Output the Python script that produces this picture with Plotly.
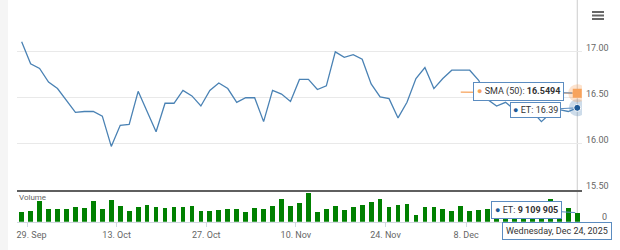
import plotly.graph_objects as go
import pandas as pd

# ---------------- data ----------------
dates = pd.bdate_range("2025-09-26", "2025-12-24")
dates = dates[dates != pd.Timestamp("2025-11-27")]  # Thanksgiving

close = [17.11, 16.87, 16.82, 16.67, 16.60, 16.47, 16.34, 16.35, 16.35, 16.30,
         15.97, 16.20, 16.21, 16.57, 16.35, 16.13, 16.44, 16.44, 16.58, 16.52,
         16.41, 16.58, 16.66, 16.60, 16.45, 16.50, 16.50, 16.24, 16.58, 16.54,
         16.46, 16.70, 16.70, 16.59, 16.63, 17.00, 16.94, 16.97, 16.92, 16.65,
         16.51, 16.49, 16.28, 16.45, 16.71, 16.83, 16.60, 16.71, 16.80, 16.80,
         16.80, 16.69, 16.48, 16.41, 16.45, 16.37, 16.43, 16.35, 16.24, 16.33,
         16.37, 16.35, 16.39]

volume_m = [9.4, 11.1, 20.9, 12.9, 12.9, 12.9, 14.5, 14.2, 20.9, 12.9,
            21.6, 15.5, 11.1, 14.9, 16.9, 14.9, 13.9, 14.9, 14.9, 15.5,
            10.8, 11.1, 12.1, 13.2, 13.2, 9.8, 13.9, 13.2, 16.2, 22.6,
            15.5, 18.5, 28.6, 9.8, 13.2, 15.5, 11.4, 14.9, 16.5, 19.9,
            23.3, 14.9, 17.2, 17.9, 6.8, 14.9, 14.5, 12.4, 11.1, 16.2,
            10.4, 12.1, 12.4, 14.2, 12.1, 15.2, 13.2, 11.1, 14.2, 23.0,
            16.2, 13.6, 9.109905]
volume = [v * 1e6 for v in volume_m]

sma50 = [16.562, 16.561, 16.561, 16.559, 16.558, 16.557, 16.556, 16.556,
         16.554, 16.553, 16.552, 16.551, 16.550, 16.5494]

tick_dates = ["2025-09-29", "2025-10-13", "2025-10-27", "2025-11-10", "2025-11-24", "2025-12-08"]
tick_labels = ["\u00a0\u00a0\u00a0\u00a029. Sep", "13. Oct", "27. Oct", "10. Nov", "24. Nov", "8. Dec"]
price_ticks = [15.5, 16.0, 16.5, 17.0, 17.5]
price_tick_text = ["15.50", "16.00", "16.50", "17.00", ""]

# ---------------- styling ----------------
W, H = 620, 250
L, R = 17, 582
BLUE = "#4a82b4"
DARKBLUE = "#1f5a96"
ORANGE = "#f7a35c"
GREEN = "#008000"
BORDER = "#5b8cc0"
FONT = "Roboto"


def fx(px):
    return (px - L) / (R - L)


def fy(py):
    return 1 - py / H


x = list(range(len(dates)))
tick_pos = [dates.get_loc(pd.Timestamp(d)) - 0.4 for d in tick_dates]
last = x[-1]

fig = go.Figure()
fig.add_trace(go.Scatter(x=x, y=close, mode="lines", line=dict(color=BLUE, width=1.3),
                         xaxis="x", yaxis="y", hoverinfo="skip"))
fig.add_trace(go.Scatter(x=x[-len(sma50):], y=sma50, mode="lines",
                         line=dict(color=ORANGE, width=1.3), xaxis="x", yaxis="y", hoverinfo="skip"))
fig.add_trace(go.Bar(x=x, y=volume, marker=dict(color=GREEN, line=dict(width=0)), width=0.53,
                     xaxis="x2", yaxis="y2", hoverinfo="skip"))
# hover halos / markers on the last point
fig.add_trace(go.Scatter(x=[last], y=[close[-1]], mode="markers",
                         marker=dict(size=17, color="rgba(74,130,180,0.28)"), xaxis="x", yaxis="y", hoverinfo="skip"))
fig.add_trace(go.Scatter(x=[last], y=[close[-1]], mode="markers",
                         marker=dict(size=7, color=DARKBLUE, line=dict(color="white", width=1)),
                         xaxis="x", yaxis="y", hoverinfo="skip"))
fig.add_trace(go.Scatter(x=[last], y=[sma50[-1]], mode="markers",
                         marker=dict(size=18, color="rgba(247,163,92,0.3)"), xaxis="x", yaxis="y", hoverinfo="skip"))
fig.add_trace(go.Scatter(x=[last], y=[sma50[-1]], mode="markers",
                         marker=dict(symbol="square", size=9, color=ORANGE), xaxis="x", yaxis="y", hoverinfo="skip"))

shapes = [
    # left grey strip
    dict(type="rect", xref="paper", yref="paper", x0=fx(0), x1=fx(8), y0=0, y1=1,
         fillcolor="#f5f5f5", line=dict(width=0), layer="below"),
    # crosshair
    dict(type="line", xref="x", yref="paper", x0=last, x1=last, y0=fy(222), y1=1,
         line=dict(color="#cccccc", width=1), layer="between"),
]
# hamburger menu icon
for yy in (12, 15.5, 19):
    shapes.append(dict(type="line", xref="paper", yref="paper", x0=fx(592), x1=fx(604),
                       y0=fy(yy), y1=fy(yy), line=dict(color="#666666", width=2)))

tip_font = dict(family=FONT, size=9, color="#333333")
annotations = [
    dict(text="Volume", xref="paper", yref="paper", x=fx(17), y=fy(197), xanchor="left",
         yanchor="middle", showarrow=False, font=dict(family=FONT, size=8, color="#666666")),
    dict(text=f"<span style='color:{ORANGE}'>●</span> SMA (50): <b>{sma50[-1]:.4f}</b>",
         xref="x", yref="y", x=last, y=sma50[-1], ax=-59, ay=-2, showarrow=True,
         arrowhead=0, arrowwidth=1, arrowcolor=BORDER, standoff=5,
         bgcolor="white", bordercolor=BORDER, borderwidth=1, borderpad=3, font=tip_font),
    dict(text=f"<span style='color:{DARKBLUE}'>●</span> ET: {close[-1]:.2f}",
         xref="x", yref="y", x=last, y=close[-1], ax=-42, ay=2, showarrow=True,
         arrowhead=0, arrowwidth=1, arrowcolor=BORDER, standoff=4,
         bgcolor="white", bordercolor=BORDER, borderwidth=1, borderpad=2, font=tip_font),
    dict(text=f"<span style='color:{DARKBLUE}'>●</span> ET: <b>{int(volume[-1]):,}</b>".replace(",", " "),
         xref="x2", yref="y2", x=last, y=volume[-1], ax=-51, ay=-3, showarrow=True,
         arrowhead=0, arrowwidth=1, arrowcolor=BORDER, standoff=2,
         bgcolor="white", bordercolor=BORDER, borderwidth=1, borderpad=3, font=tip_font),
    dict(text=dates[-1].strftime("%A, %b %d, %Y"), xref="paper", yref="paper",
         x=fx(556.5), y=fy(231), xanchor="center", yanchor="middle", showarrow=False,
         bgcolor="white", bordercolor=BORDER, borderwidth=1, borderpad=3, font=tip_font),
]

axis_font = dict(family=FONT, size=9, color="#666666")
fig.update_layout(
    width=W, height=H,
    margin=dict(l=L, r=W - R, t=0, b=0, autoexpand=False),
    paper_bgcolor="white", plot_bgcolor="white",
    showlegend=False, bargap=0,
    font=dict(family=FONT),
    shapes=shapes, annotations=annotations,
    xaxis=dict(domain=[0, 1], range=[-0.52, 62.53], anchor="y", showticklabels=False,
               showgrid=False, zeroline=False, showline=True, linecolor="#5f5f5f", linewidth=1.5,
               fixedrange=True),
    yaxis=dict(domain=[fy(189.5), fy(6)], range=[15.5, 17.5], side="right", anchor="x",
               tickmode="array", tickvals=price_ticks, ticktext=price_tick_text,
               showgrid=True, gridcolor="#e9e9e9", gridwidth=1, zeroline=False, showline=False,
               tickfont=axis_font, ticklabelshift=-4, ticklabelstandoff=3, fixedrange=True),
    xaxis2=dict(domain=[0, 1], range=[-0.52, 62.53], anchor="y2", matches="x",
                tickmode="array", tickvals=tick_pos, ticktext=tick_labels,
                ticks="outside", ticklen=4, tickcolor="#d0d8e0", showline=True,
                linecolor="#d0d8e0", linewidth=1, showgrid=False, zeroline=False,
                tickfont=axis_font, fixedrange=True),
    yaxis2=dict(domain=[fy(221.7), fy(190)], range=[0, 32.1e6], side="right", anchor="x2",
                tickmode="array", tickvals=[0], ticktext=["0"], showgrid=False, zeroline=False,
                showline=False, tickfont=axis_font, ticklabelshift=-5, ticklabelstandoff=19,
                fixedrange=True),
)

fig.write_html("out.html", config={"displayModeBar": False})
